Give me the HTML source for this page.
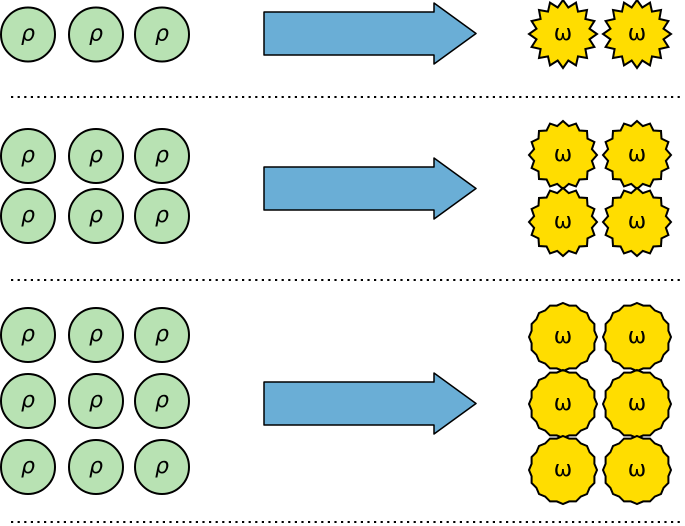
<!DOCTYPE html>
<html><head><meta charset="utf-8"><style>
html,body{margin:0;padding:0;background:#fff;width:685px;height:526px;overflow:hidden}
svg{display:block}
</style></head><body>
<svg id="s" width="685" height="526" viewBox="0 0 685 526" xmlns="http://www.w3.org/2000/svg">
<g stroke="#000" stroke-width="2" stroke-dasharray="2.2 4.4">
<line x1="11" y1="97" x2="682" y2="97"/>
<line x1="11" y1="280" x2="682" y2="280"/>
<line x1="11" y1="522" x2="682" y2="522"/>
</g>
<g fill="#6aaed6" stroke="#000" stroke-width="1.5" stroke-linejoin="round">
<path d="M264 12H434V3L476 33.5L434 64V55H264Z"/>
<path d="M264 167H434V158L476 188.5L434 219V210H264Z"/>
<path d="M264 382H434V373L476 403.5L434 434V425H264Z"/>
</g>
<g id="c" fill="#b8e2b3" stroke="#000" stroke-width="2"></g>
<g id="st" fill="#ffdd00" stroke="#000" stroke-width="2" stroke-linejoin="miter"></g>
</svg>
<script>
var NS="http://www.w3.org/2000/svg",c=document.getElementById('c'),st=document.getElementById('st'),s=document.getElementById('s');
function txt(x,y,t,italic,fs){var e=document.createElementNS(NS,'text');e.setAttribute('x',x);e.setAttribute('y',y+7);e.setAttribute('font-size',fs);e.setAttribute('font-family','DejaVu Sans, sans-serif');e.setAttribute('text-anchor','middle');if(italic)e.setAttribute('font-style','italic');e.textContent=t;s.appendChild(e);}
var xs=[28,96,162];
[[34.5],[156,216],[335,401,467]].forEach(function(r){r.forEach(function(y){xs.forEach(function(x){
var e=document.createElementNS(NS,'circle');e.setAttribute('cx',x);e.setAttribute('cy',y);e.setAttribute('r',27);c.appendChild(e);txt(x,y-1,'ρ',true,22);});});});
function star(cx,cy,ro,ri){var d='',n=16;for(var i=0;i<2*n;i++){var a=Math.PI*i/n-Math.PI/2,r=i%2?ri:ro;d+=(i?'L':'M')+(cx+r*Math.cos(a)).toFixed(1)+' '+(cy+r*Math.sin(a)).toFixed(1);}
var p=document.createElementNS(NS,'path');p.setAttribute('d',d+'Z');st.appendChild(p);txt(cx,cy-1,'ω',false,22);}
[563,637].forEach(function(x){star(x,34,34,27);});
[155,222].forEach(function(y){[563,637].forEach(function(x){star(x,y,34,29.5);});});
[337,404,470].forEach(function(y){[563,637].forEach(function(x){star(x,y,34,32);});});
</script>
</body></html>
